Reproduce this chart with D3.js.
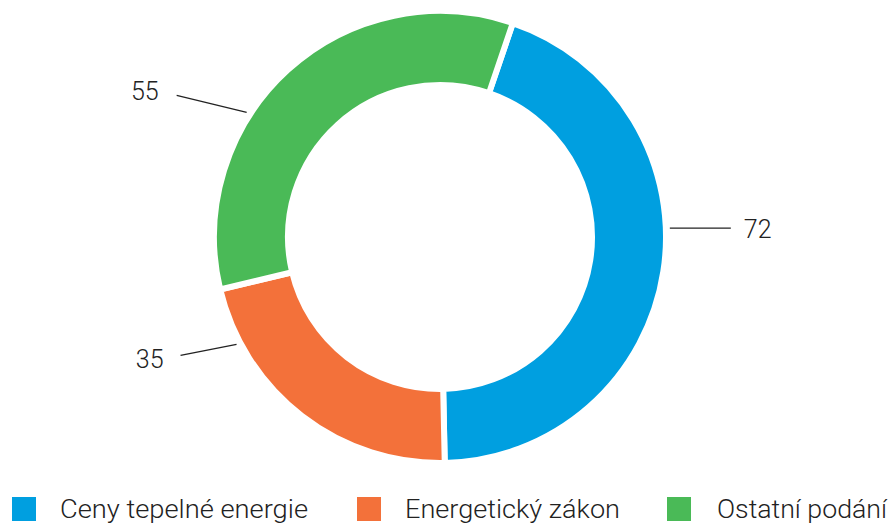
<!DOCTYPE html>
<html><head><meta charset="utf-8">
<script src="https://cdn.jsdelivr.net/npm/d3@7"></script>
<style>html,body{margin:0;padding:0;background:#fff;}svg{display:block;}</style>
</head><body>
<svg id="c" width="889" height="524"></svg>
<script>
const categories = ["Ceny tepelné energie", "Energetický zákon", "Ostatní podání"];
const values = [72, 35, 55];
const colors = ["#009fe0", "#f3713a", "#4aba57"];

// layout only
const W = 889, H = 524, cx = 440, cy = 237;
const outerR = 226, innerR = 152;
const startDeg = 18.8;
const labelLayout = [
  {angle: 87.8, dx: 61, dy: 0, anchor: "start", tdx: 13, tdy: 10},
  {angle: 242.2, dx: -56, dy: 11, anchor: "end", tdx: -17, tdy: 13},
  {angle: 302.8, dx: -70, dy: -17, anchor: "end", tdx: -18, tdy: 5}
];
const legendLayout = [
  {sq: 12, tx: 60, tw: 248},
  {sq: 357, tx: 405, tw: 215},
  {sq: 667, tx: 717, tw: 170}
];

const svg = d3.select("#c");
const rad = d => d * Math.PI / 180;
const pie = d3.pie().sort(null).value(d => d)
  .startAngle(rad(startDeg)).endAngle(rad(startDeg) + 2 * Math.PI);
const arcs = pie(values);
const arc = d3.arc().innerRadius(innerR).outerRadius(outerR);
const g = svg.append("g").attr("transform", `translate(${cx},${cy})`);
g.selectAll("path").data(arcs).join("path")
  .attr("d", arc).attr("fill", (d, i) => colors[i])
  .attr("stroke", "#fff").attr("stroke-width", 6).attr("stroke-linejoin", "miter");

const labelR = 230;
labelLayout.forEach((L, i) => {
  const a = rad(L.angle);
  const x0 = Math.sin(a) * labelR, y0 = -Math.cos(a) * labelR;
  const x1 = x0 + L.dx, y1 = y0 + L.dy;
  g.append("line").attr("x1", x0).attr("y1", y0).attr("x2", x1).attr("y2", y1)
    .attr("stroke", "#222").attr("stroke-width", 1.3);
  g.append("text").attr("x", x1 + L.tdx).attr("y", y1 + L.tdy)
    .attr("text-anchor", L.anchor)
    .attr("font-family", "Roboto, 'Liberation Sans', sans-serif")
    .attr("font-size", 25).attr("font-weight", 300).attr("fill", "#222")
    .text(values[i]);
});

const lg = svg.append("g");
categories.forEach((c, i) => {
  const L = legendLayout[i];
  lg.append("rect").attr("x", L.sq).attr("y", 497).attr("width", 24).attr("height", 24).attr("fill", colors[i]);
  lg.append("text").attr("x", L.tx).attr("y", 518)
    .attr("font-family", "Roboto, sans-serif")
    .attr("font-size", 25).attr("font-weight", 300).attr("fill", "#222")
    .attr("textLength", L.tw).attr("lengthAdjust", "spacingAndGlyphs")
    .text(c);
});
</script>
</body></html>
